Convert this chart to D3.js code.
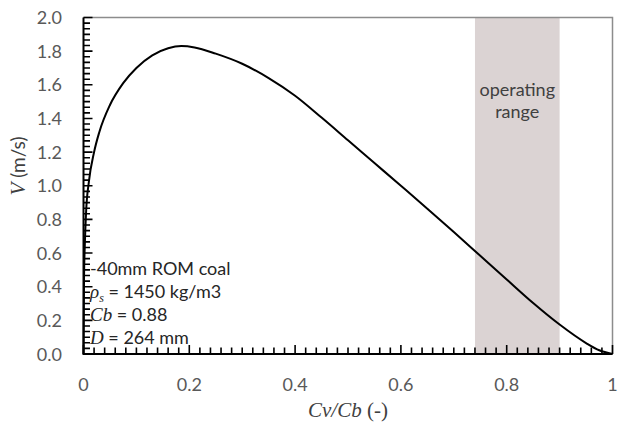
<!DOCTYPE html>
<html>
<head>
<meta charset="utf-8">
<script src="https://cdn.jsdelivr.net/npm/d3@7"></script>
<style>
  body { margin: 0; background: #fff; }
  svg { display: block; }
</style>
</head>
<body>
<div id="container"></div>
<script>
let w = 619;
let h = 423;
let margin = {left: 83.5, right: 6.5, top: 17.5, bottom: 69};

// curve: velocity vs concentration ratio
let ratio    = [0, 0.001, 0.0025, 0.005, 0.01, 0.02, 0.03, 0.05, 0.075, 0.1, 0.13, 0.16, 0.185, 0.21, 0.25, 0.3, 0.35, 0.4, 0.45, 0.5, 0.55, 0.6, 0.65, 0.7, 0.75, 0.8, 0.85, 0.9, 0.95, 0.975, 1];
let velocity = [0, 0.45, 0.65, 0.85, 1.02, 1.2, 1.32, 1.48, 1.61, 1.7, 1.775, 1.817, 1.83, 1.822, 1.785, 1.725, 1.64, 1.535, 1.405, 1.27, 1.135, 1.0, 0.864, 0.725, 0.584, 0.443, 0.303, 0.175, 0.065, 0.022, 0];

// shaded band
let bandRange = [0.74, 0.9];

let xTicks = [0, 0.2, 0.4, 0.6, 0.8, 1];
let xTickLabels = ["0", "0.2", "0.4", "0.6", "0.8", "1"];
let yTicks = [0, 0.2, 0.4, 0.6, 0.8, 1.0, 1.2, 1.4, 1.6, 1.8, 2.0];
let yTickLabels = ["0.0", "0.2", "0.4", "0.6", "0.8", "1.0", "1.2", "1.4", "1.6", "1.8", "2.0"];

let notes = ["-40mm ROM coal", "= 1450 kg/m3", "= 0.88", "= 264 mm"];

let viz = d3.select("#container").append("svg")
  .attr("width", w)
  .attr("height", h)

let x = d3.scaleLinear().domain([0, 1]).range([margin.left, w - margin.right])
let y = d3.scaleLinear().domain([0, 2]).range([h - margin.bottom, margin.top])

let sans = "Lato, 'Open Sans', sans-serif"
let serif = "'Liberation Serif', 'DejaVu Serif', serif"

// operating range band
viz.append("rect")
  .attr("x", x(bandRange[0]))
  .attr("y", y(2))
  .attr("width", x(bandRange[1]) - x(bandRange[0]))
  .attr("height", y(0) - y(2))
  .attr("fill", "#dbd3d3")

let bandLabel = viz.append("text")
  .attr("text-anchor", "middle")
  .attr("font-family", sans)
  .attr("font-size", 18)
  .attr("fill", "#404040")
bandLabel.selectAll("tspan").data(["operating", "range"]).enter()
  .append("tspan")
  .attr("x", x((bandRange[0] + bandRange[1]) / 2))
  .attr("y", function(d, i) { return 96 + i * 22 })
  .text(function(d) { return d })

// frame top and right
viz.append("path")
  .attr("d", "M" + x(0) + "," + y(2) + "H" + x(1) + "V" + y(0))
  .attr("fill", "none")
  .attr("stroke", "#8c8c8c")
  .attr("stroke-width", 1.5)

// curve
let points = ratio.map(function(d, i) { return [d, velocity[i]] })
let line = d3.line()
  .x(function(d) { return x(d[0]) })
  .y(function(d) { return y(d[1]) })
  .curve(d3.curveMonotoneX)

viz.append("path")
  .datum(points)
  .attr("d", line)
  .attr("fill", "none")
  .attr("stroke", "#000")
  .attr("stroke-width", 2)

// tick labels
viz.selectAll("text.xlabel").data(xTicks).enter()
  .append("text")
  .attr("class", "xlabel")
  .attr("x", function(d) { return x(d) })
  .attr("y", 391)
  .attr("text-anchor", "middle")
  .attr("font-family", sans)
  .attr("font-size", 18)
  .attr("fill", "#595959")
  .text(function(d, i) { return xTickLabels[i] })

viz.selectAll("text.ylabel").data(yTicks).enter()
  .append("text")
  .attr("class", "ylabel")
  .attr("x", 62)
  .attr("y", function(d) { return y(d) + 6.5 })
  .attr("text-anchor", "end")
  .attr("font-family", sans)
  .attr("font-size", 18)
  .attr("fill", "#595959")
  .text(function(d, i) { return yTickLabels[i] })

// axis titles
let xTitle = viz.append("text")
  .attr("x", 348)
  .attr("y", 417)
  .attr("text-anchor", "middle")
  .attr("font-family", serif)
  .attr("font-size", 21)
  .attr("fill", "#404040")
xTitle.append("tspan").attr("font-style", "italic").text("Cv/Cb")
xTitle.append("tspan").text(" (-)")

let yTitle = viz.append("text")
  .attr("transform", "translate(25,166) rotate(-90)")
  .attr("text-anchor", "middle")
  .attr("font-family", serif)
  .attr("font-size", 21)
  .attr("fill", "#404040")
yTitle.append("tspan").attr("font-style", "italic").text("V")
yTitle.append("tspan").attr("font-family", sans).attr("font-size", 19).text(" (m/s)")

// material notes
let noteY = [275, 298, 321, 344]
let noteSymbols = [null, "\u03c1", "Cb", "D"]
notes.forEach(function(n, i) {
  let t = viz.append("text")
    .attr("x", 90)
    .attr("y", noteY[i])
    .attr("font-family", sans)
    .attr("font-size", 18)
    .attr("fill", "#262626")
  if (noteSymbols[i] != null) {
    t.append("tspan").attr("font-family", serif).attr("font-style", "italic").attr("font-size", 19).text(noteSymbols[i])
    if (i == 1) {
      t.append("tspan").attr("font-family", serif).attr("font-style", "italic")
        .attr("font-size", 12).attr("dy", 4).text("s")
      t.append("tspan").attr("dy", -4).text(" " + n)
    } else {
      t.append("tspan").text(" " + n)
    }
  } else {
    t.text(n)
  }
})

// inward ticks along both axes, major ones longer
let xMinor = d3.range(0, 51).map(function(i) { return i / 50 })
let yMinor = d3.range(0, 61).map(function(i) { return i / 30 })

let tickPath = d3.path()
xMinor.forEach(function(d, i) {
  tickPath.moveTo(x(d), y(0))
  tickPath.lineTo(x(d), y(0) - (i % 10 == 0 ? 9 : 6.5))
})
yMinor.forEach(function(d, i) {
  tickPath.moveTo(x(0), y(d))
  tickPath.lineTo(x(0) + (i % 6 == 0 ? 9 : 6.5), y(d))
})

viz.append("path")
  .attr("d", tickPath.toString())
  .attr("fill", "none")
  .attr("stroke", "#000")
  .attr("stroke-width", 1.6)

// axes lines
viz.append("path")
  .attr("d", "M" + x(0) + "," + y(2) + "V" + y(0) + "H" + x(1))
  .attr("fill", "none")
  .attr("stroke", "#000")
  .attr("stroke-width", 2)
</script>
</body>
</html>
